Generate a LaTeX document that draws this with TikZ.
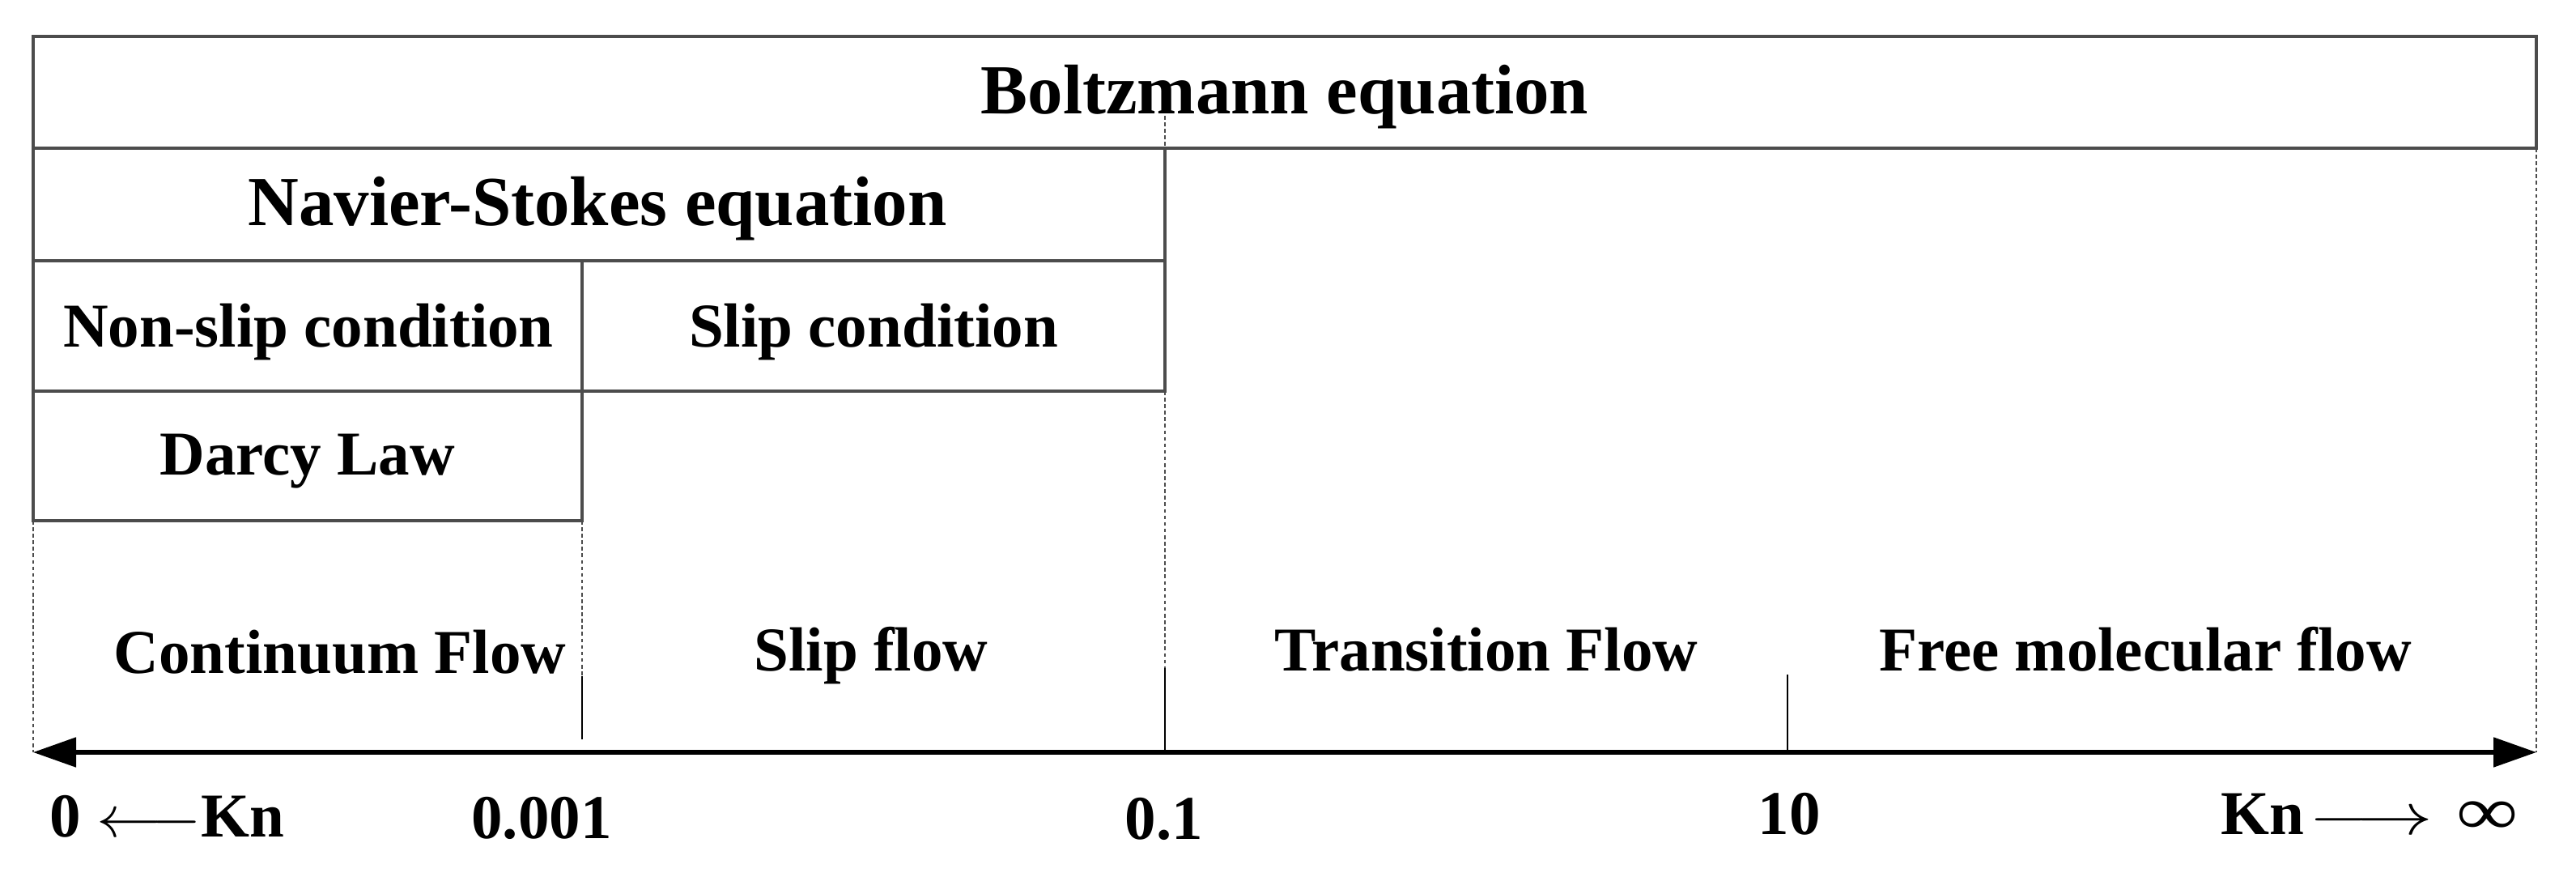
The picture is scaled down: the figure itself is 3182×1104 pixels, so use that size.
\documentclass[tikz,border=0pt]{standalone}
\usepackage{fontspec}
\usepackage{graphicx}
\setmainfont{Liberation Serif}
\usetikzlibrary{arrows.meta}
\begin{document}
\begin{tikzpicture}[x=0.01cm,y=-0.01cm,
  cell/.style={draw=black!70, line width=1.1pt},
  guide/.style={draw=black!70, line width=0.7pt, dash pattern=on 1.3pt off 1pt},
  tickline/.style={draw=black, line width=0.8pt},
  lab/.style={font=\fontsize{21.9}{26}\selectfont\bfseries, inner sep=0pt, anchor=base},
  headlab/.style={font=\fontsize{24.7}{29}\selectfont\bfseries, inner sep=0pt, anchor=base},
  axisline/.style={line width=1.45pt, {Triangle[length=0.53cm,width=0.36cm]}-{Triangle[length=0.53cm,width=0.36cm]}}]
\useasboundingbox (0,0) rectangle (3182,1104);
% cells
\draw[cell] (41,45) rectangle (3133,183);
\draw[cell] (41,183) rectangle (1439,322);
\draw[cell] (41,322) rectangle (719,483);
\draw[cell] (719,322) rectangle (1439,483);
\draw[cell] (41,483) rectangle (719,643);
% axis coordinates
\coordinate (axL) at (41,929);
\coordinate (axR) at (3133,929);
% dashed guides
\draw[guide] (41,643) -- (axL);
\draw[guide] (719,643) -- (719,835);
\draw[guide] (1439,143) -- (1439,183);
\draw[guide] (1439,483) -- (1439,825);
\draw[guide] (3133,183) -- (axR);
% ticks
\draw[tickline] (719,835) -- (719,913);
\draw[tickline] (1439,825) -- (1439,929);
\draw[tickline] (2208,833) -- (2208,929);
% axis
\draw[axisline] (axL) -- (axR);
% texts
\node[headlab] (boltz) at (1587,141) {Boltzmann equation};
\node[headlab] (ns) at (738,279) {Navier-Stokes equation};
\node[lab] (nonslip) at (381,429) {Non-slip condition};
\node[lab] (slipc) at (1079,429) {Slip condition};
\node[lab] (darcy) at (380,587) {Darcy Law};
\node[lab] (cont) at (420,832) {Continuum Flow};
\node[lab] (slipf) at (1076,829) {Slip flow};
\node[lab] (trans) at (1836,829) {Transition Flow};
\node[lab] (free) at (2650,829) {Free molecular flow};
\node[lab, anchor=base west] (kn0) at (61,1033) {0 \scalebox{1.1}[1]{$\longleftarrow$}Kn};
\node[lab] (t1) at (669,1035) {0.001};
\node[lab] (t2) at (1438,1036) {0.1};
\node[lab] (t3) at (2210,1031) {10};
\node[lab, anchor=base west] (kninf) at (2743,1031) {Kn\hspace{0.06cm}\scalebox{1.3}[1]{$\longrightarrow$}\hspace{0.3cm}\scalebox{1.35}[1.1]{∞}};
\end{tikzpicture}
\end{document}
